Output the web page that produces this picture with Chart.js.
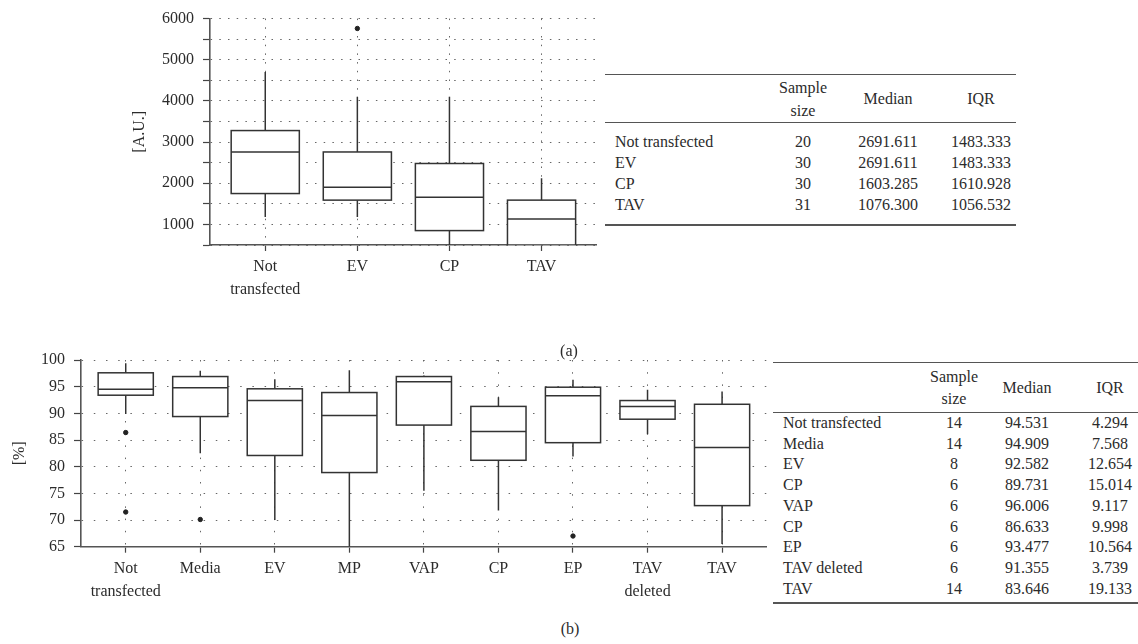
<!DOCTYPE html>
<html>
<head>
<meta charset="utf-8">
<script src="https://cdn.jsdelivr.net/npm/chart.js@4.4.1/dist/chart.umd.min.js"></script>
<style>
  body { margin: 0; background: #fff; font-family: 'Liberation Serif', serif; color: #2b2b2b; }
  canvas { position: absolute; }
  .cap { position: absolute; width: 40px; text-align: center; font-size: 16px; }
  table { position: absolute; border-collapse: collapse; font-size: 16px; }
  th { font-weight: normal; }
  td, th { padding: 0; }
  #tabA { left: 605px; top: 74px; width: 411px; border-top: 1.5px solid #555; border-bottom: 2px solid #555; }
  #tabA thead tr { height: 48px; border-bottom: 1px solid #555; line-height: 23px; }
  #tabA tbody td { height: 21px; line-height: 21px; }
  #tabB { left: 773px; top: 362px; width: 365px; border-top: 1.5px solid #555; border-bottom: 2px solid #555; }
  #tabB thead tr { height: 50px; border-bottom: 1px solid #555; line-height: 22px; }
  #tabB tbody td { height: 20.7px; line-height: 20.7px; }
  .lab { text-align: left; padding-left: 10px; }
  .num { text-align: center; }
</style>
</head>
<body>
<canvas id="boxA" width="600" height="310" style="left:0;top:0"></canvas>
<canvas id="boxB" width="770" height="270" style="left:0;top:340px"></canvas>
<div class="cap" style="left:549px;top:342px">(a)</div>
<div class="cap" style="left:550px;top:620px">(b)</div>

<table id="tabA">
  <colgroup><col style="width:153px"><col style="width:90px"><col style="width:80px"><col style="width:88px"></colgroup>
  <thead><tr><th></th><th class="num">Sample<br>size</th><th class="num">Median</th><th class="num" style="padding-left:18px">IQR</th></tr></thead>
  <tbody id="bodyA"></tbody>
</table>
<table id="tabB">
  <colgroup><col style="width:142px"><col style="width:78px"><col style="width:68px"><col style="width:77px"></colgroup>
  <thead><tr><th></th><th class="num">Sample<br>size</th><th class="num">Median</th><th class="num" style="padding-left:21px">IQR</th></tr></thead>
  <tbody id="bodyB"></tbody>
</table>

<script>
// ---- panel (a) ----
const catsA = [['Not', 'transfected'], 'EV', 'CP', 'TAV']
const minA = [1180, 1180, 500, 500]
const q1A = [1750, 1590, 850, 500]
const medA = [2760, 1900, 1660, 1130]
const q3A = [3280, 2760, 2480, 1590]
const maxA = [4700, 4100, 4100, 2120]
const outA = [[], [5760], [], []]

const tabNamesA = ['Not transfected', 'EV', 'CP', 'TAV']
const tabNA = ['20', '30', '30', '31']
const tabMedA = ['2691.611', '2691.611', '1603.285', '1076.300']
const tabIqrA = ['1483.333', '1483.333', '1610.928', '1056.532']

// ---- panel (b) ----
const catsB = [['Not', 'transfected'], 'Media', 'EV', 'MP', 'VAP', 'CP', 'EP', ['TAV', 'deleted'], 'TAV']
const minB = [89.9, 82.5, 70.0, 65.0, 75.5, 71.8, 81.9, 86.1, 65.5]
const q1B = [93.4, 89.4, 82.1, 78.9, 87.8, 81.2, 84.5, 88.9, 72.7]
const medB = [94.5, 94.8, 92.4, 89.6, 95.9, 86.6, 93.3, 91.3, 83.6]
const q3B = [97.6, 96.9, 94.6, 93.9, 96.9, 91.3, 94.9, 92.4, 91.7]
const maxB = [99.4, 98.0, 96.4, 98.1, 97.1, 93.0, 96.3, 94.4, 94.1]
const outB = [[86.4, 71.5], [70.1], [], [], [], [], [67.0], [], []]

const tabNamesB = ['Not transfected', 'Media', 'EV', 'CP', 'VAP', 'CP', 'EP', 'TAV deleted', 'TAV']
const tabNB = ['14', '14', '8', '6', '6', '6', '6', '6', '14']
const tabMedB = ['94.531', '94.909', '92.582', '89.731', '96.006', '86.633', '93.477', '91.355', '83.646']
const tabIqrB = ['4.294', '7.568', '12.654', '15.014', '9.117', '9.998', '10.564', '3.739', '19.133']

const serif = 'Liberation Serif'
const ink = '#2b2b2b'

// draws boxes + whiskers using the chart scales
const boxPlugin = {
    id: 'boxes',
    afterDatasetsDraw(chart, args, opts) {
        const { ctx, scales: { x, y }, chartArea } = chart
        ctx.save()
        ctx.beginPath()
        ctx.rect(chartArea.left, chartArea.top - 2, chartArea.right - chartArea.left, chartArea.bottom - chartArea.top + 2)
        ctx.clip()
        ctx.strokeStyle = '#333'
        ctx.lineWidth = 1.5
        opts.med.forEach((m, i) => {
            const cx = x.getPixelForValue(i + 1)
            const hw = Math.abs(x.getPixelForValue(i + 1 + opts.half) - cx)
            const yMin = y.getPixelForValue(opts.min[i])
            const yQ1 = y.getPixelForValue(opts.q1[i])
            const yMed = y.getPixelForValue(m)
            const yQ3 = y.getPixelForValue(opts.q3[i])
            const yMax = y.getPixelForValue(opts.max[i])
            ctx.beginPath()
            ctx.moveTo(cx, yMax); ctx.lineTo(cx, yQ3)
            ctx.moveTo(cx, yQ1); ctx.lineTo(cx, yMin)
            ctx.stroke()
            ctx.fillStyle = '#fff'
            ctx.fillRect(cx - hw, yQ3, hw * 2, yQ1 - yQ3)
            ctx.strokeRect(cx - hw, yQ3, hw * 2, yQ1 - yQ3)
            ctx.beginPath()
            ctx.moveTo(cx - hw, yMed); ctx.lineTo(cx + hw, yMed)
            ctx.stroke()
        })
        ctx.restore()
    }
}

const makeBoxChart = (id, cfg) => {
    const points = []
    cfg.out.forEach((list, i) => list.forEach(v => points.push({ x: i + 1, y: v })))

    const data = {
        datasets: [{
            type: 'scatter',
            data: points,
            backgroundColor: '#222',
            borderColor: '#222',
            pointRadius: 2.2,
            pointHoverRadius: 2.2
        }]
    }

    const options = {
        responsive: false,
        animation: false,
        layout: { padding: cfg.padding },
        plugins: {
            legend: { display: false },
            tooltip: { enabled: false },
            boxes: { min: cfg.min, q1: cfg.q1, med: cfg.med, q3: cfg.q3, max: cfg.max, half: 0.37 }
        },
        scales: {
            x: {
                type: 'linear',
                min: 0.4,
                max: cfg.cats.length + 0.6,
                afterBuildTicks: s => { s.ticks = cfg.cats.map((c, i) => ({ value: i + 1 })) },
                afterFit: s => { s.height = cfg.xHeight },
                ticks: {
                    callback: v => cfg.cats[v - 1],
                    autoSkip: false, maxRotation: 0,
                    color: ink, padding: 4,
                    font: { family: serif, size: 16, lineHeight: 1.45 }
                },
                grid: { color: '#666', lineWidth: 1, tickColor: '#444', tickLength: 6, tickWidth: 1.2 },
                border: { color: '#555', width: 1.6, dash: cfg.dash }
            },
            y: {
                min: cfg.yMin,
                max: cfg.yMax,
                afterFit: s => { s.width = cfg.yWidth },
                ticks: {
                    stepSize: cfg.step,
                    autoSkip: false,
                    callback: cfg.label,
                    color: ink, padding: 9,
                    font: { family: serif, size: 16 }
                },
                title: { display: true, text: cfg.title, color: ink, font: { family: serif, size: 16 }, padding: 0 },
                grid: { color: '#666', lineWidth: 1, tickColor: '#444', tickLength: 7, tickWidth: 1.2 },
                border: { color: '#555', width: 1.6, dash: cfg.dash }
            }
        }
    }

    new Chart(id, { type: 'scatter', data, options, plugins: [boxPlugin] })
}

makeBoxChart('boxA', {
    cats: catsA, min: minA, q1: q1A, med: medA, q3: q3A, max: maxA, out: outA,
    yMin: 500, yMax: 6000, step: 500,
    label: v => (v % 1000 === 0 ? v : ''),
    title: '[A.U.]',
    padding: { left: 130, right: 3, top: 16, bottom: 0 },
    yWidth: 80, xHeight: 65, dash: [1.5, 7.2]
})

makeBoxChart('boxB', {
    cats: catsB, min: minB, q1: q1B, med: medB, q3: q3B, max: maxB, out: outB,
    yMin: 65, yMax: 100, step: 5,
    label: v => v,
    title: '[%]',
    padding: { left: 10, right: 3, top: 20, bottom: 0 },
    yWidth: 71, xHeight: 63.3, dash: [1.5, 10.7]
})

// tables
const fillTable = (id, names, n, med, iqr, pad) => {
    const body = document.getElementById(id)
    names.forEach((name, i) => {
        const tr = document.createElement('tr')
        tr.innerHTML = `<td class="lab">${name}</td><td class="num">${n[i]}</td><td class="num">${med[i]}</td><td class="num" style="padding-left:${pad}px">${iqr[i]}</td>`
        body.appendChild(tr)
    })
}
fillTable('bodyA', tabNamesA, tabNA, tabMedA, tabIqrA, 18)
fillTable('bodyB', tabNamesB, tabNB, tabMedB, tabIqrB, 21)

// spacing above/below the table bodies
document.querySelectorAll('#bodyA tr:first-child td').forEach(td => { td.style.paddingTop = '8px' })
document.querySelectorAll('#bodyA tr:last-child td').forEach(td => { td.style.paddingBottom = '9px' })
document.querySelectorAll('#bodyB tr:last-child td').forEach(td => { td.style.paddingBottom = '3px' })
</script>
</body>
</html>
